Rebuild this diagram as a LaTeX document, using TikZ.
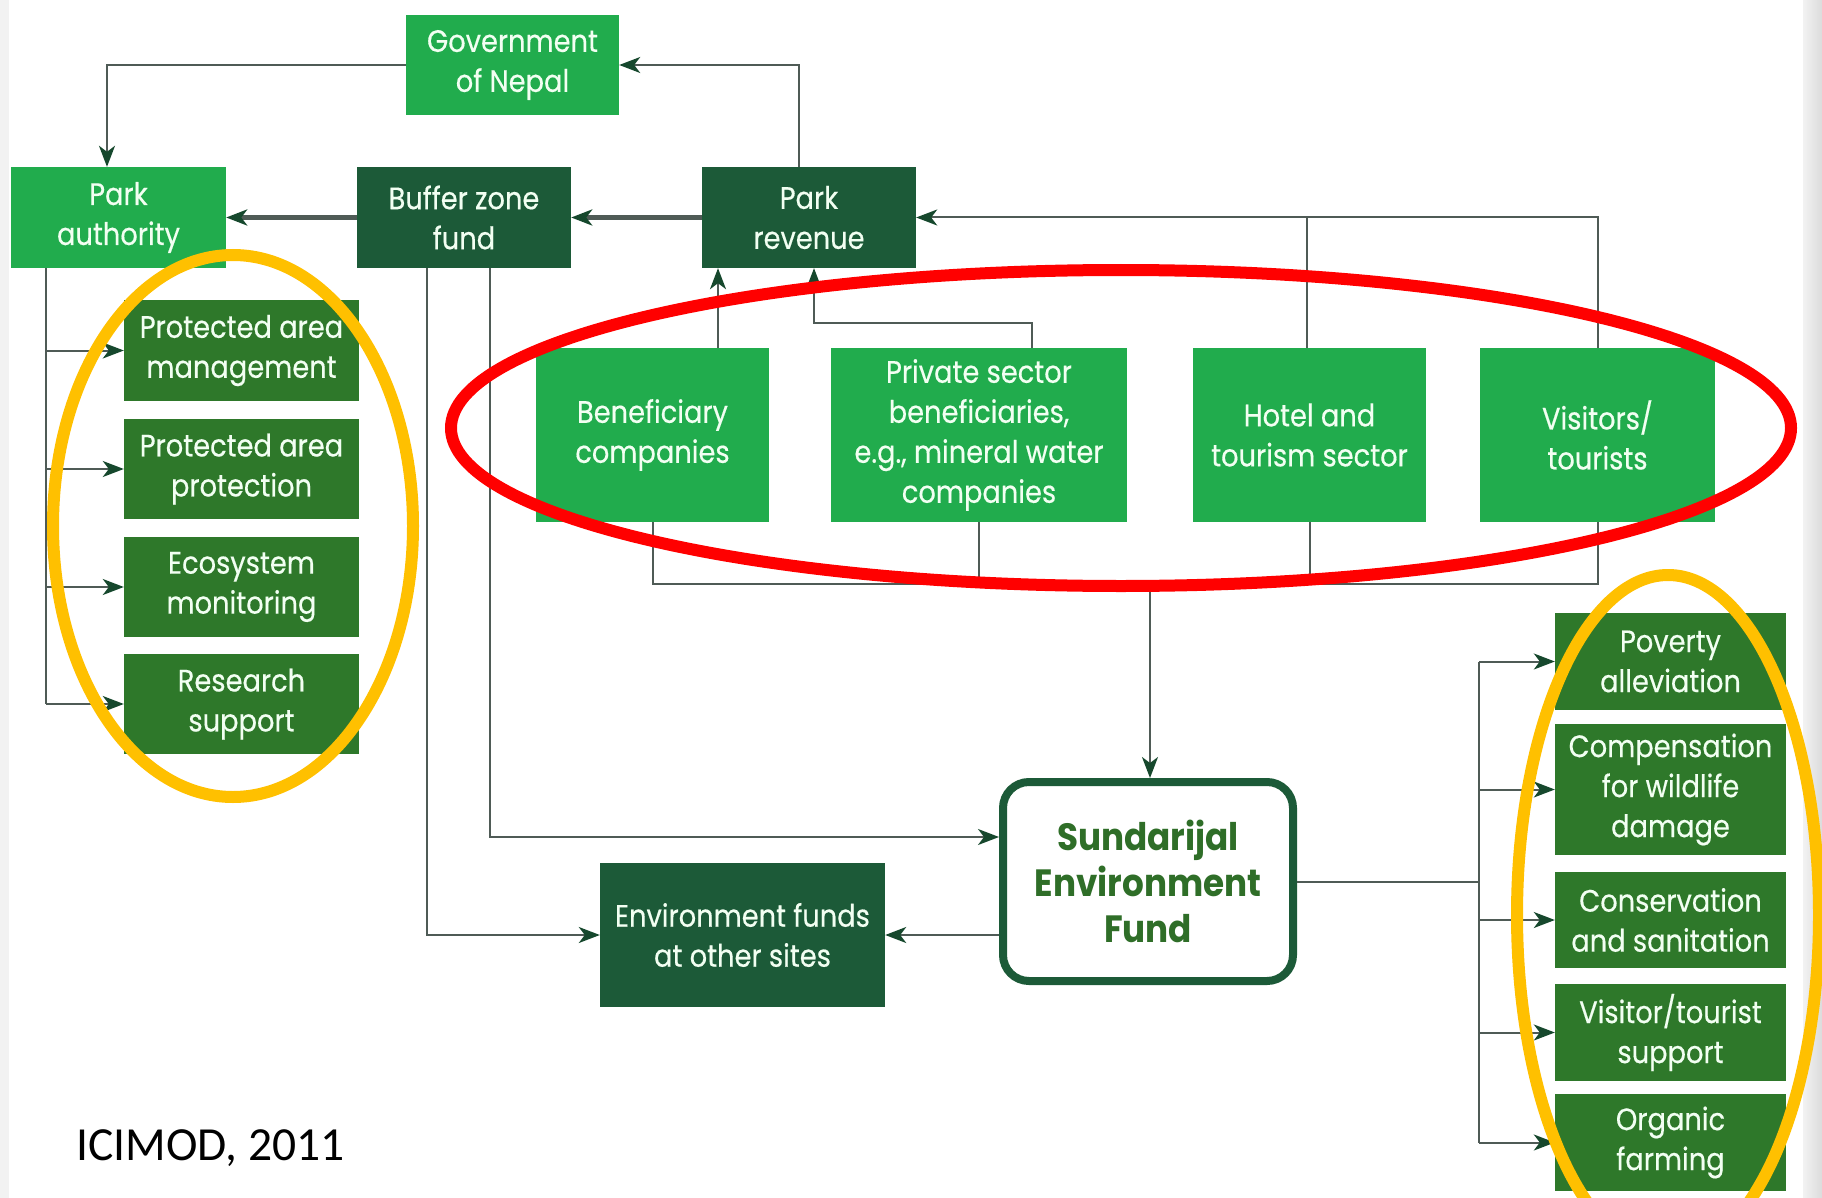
\documentclass[tikz,border=0pt]{standalone}
\usepackage{fontspec}
\setmainfont{Poppins}
\newfontfamily\boxfont[FakeStretch=0.88,FakeBold=0.4]{Poppins}
\newfontfamily\sefont[FakeStretch=0.9]{Poppins}
\newfontfamily\capfont{Carlito}
\usetikzlibrary{arrows.meta,calc}

\definecolor{lgreen}{HTML}{21AC4D}
\definecolor{dgreen}{HTML}{1C5A38}
\definecolor{mgreen}{HTML}{2E782A}
\definecolor{sefgreen}{HTML}{2F6E28}
\definecolor{linec}{HTML}{4F5B56}
\definecolor{hiyellow}{HTML}{FFC000}
\definecolor{txtlight}{HTML}{F2FFF2}

\tikzset{
  box/.style={rectangle, inner sep=0pt, align=center, text=txtlight,
    font=\boxfont\fontsize{31}{40}\selectfont},
  lbox/.style={box, fill=lgreen},
  dbox/.style={box, fill=dgreen},
  mbox/.style={box, fill=mgreen},
  wire/.style={draw=linec, line width=2pt},
  conn/.style={wire, -{Stealth[length=21pt,width=16pt,inset=6pt,color=dgreen!80!black]}},
  hilite/.style={line width=12pt},
}

\begin{document}
\begin{tikzpicture}[x=1pt,y=-1pt]
\useasboundingbox (0,0) rectangle (1822,1198);
\clip (0,0) rectangle (1822,1198);
\fill[white] (0,0) rectangle (1822,1198);
\fill[gray!10] (0,0) rectangle (9,1198);
\shade[left color=gray!10, right color=gray!28] (1803,0) rectangle (1822,1198);

% top row
\node[lbox, minimum width=213pt, minimum height=100pt] (gov) at (512.5,65) {Government\\of Nepal};
\node[lbox, minimum width=215pt, minimum height=101pt] (pa) at (118.5,217.5) {Park\\authority};
\node[dbox, minimum width=214pt, minimum height=101pt] (bzf) at (464,217.5) {Buffer zone\\fund};
\node[dbox, minimum width=214pt, minimum height=101pt] (pr) at (809,217.5) {Park\\revenue};

% contributors
\node[lbox, minimum width=233pt, minimum height=174pt] (ben) at (652.5,435) {Beneficiary\\companies};
\node[lbox, minimum width=296pt, minimum height=174pt] (priv) at (979,435) {Private sector\\beneficiaries,\\e.g., mineral water\\companies};
\node[lbox, minimum width=233pt, minimum height=174pt] (hotel) at (1309.5,435) {Hotel and\\tourism sector};
\node[lbox, minimum width=235pt, minimum height=174pt] (vis) at (1597.5,435) {Visitors/\\tourists};

% left column
\node[mbox, minimum width=235pt, minimum height=101pt] (pam) at (241.5,350.5) {Protected area\\management};
\node[mbox, minimum width=235pt, minimum height=100pt] (pap) at (241.5,469) {Protected area\\protection};
\node[mbox, minimum width=235pt, minimum height=100pt] (eco) at (241.5,587) {Ecosystem\\monitoring};
\node[mbox, minimum width=235pt, minimum height=100pt] (res) at (241.5,704) {Research\\support};

% fund
\node[rectangle, rounded corners=26pt, draw=dgreen, line width=8pt, fill=white,
  minimum width=290pt, minimum height=199pt, align=center, text=sefgreen,
  font=\sefont\bfseries\fontsize{38}{46}\selectfont] (sef) at (1148,881.5) {Sundarijal\\Environment\\Fund};
\node[dbox, minimum width=285pt, minimum height=144pt] (efo) at (742.5,935) {Environment funds\\at other sites};

% right column
\node[mbox, minimum width=231pt, minimum height=97pt] (pov) at (1670.5,661.5) {Poverty\\alleviation};
\node[mbox, minimum width=231pt, minimum height=131pt] (comp) at (1670.5,789.5) {Compensation\\for wildlife\\damage};
\node[mbox, minimum width=231pt, minimum height=96pt] (cons) at (1670.5,920) {Conservation\\and sanitation};
\node[mbox, minimum width=231pt, minimum height=97pt] (vt) at (1670.5,1032.5) {Visitor/tourist\\support};
\node[mbox, minimum width=231pt, minimum height=97pt] (org) at (1670.5,1142.5) {Organic\\farming};

\node[anchor=base west, inner sep=0pt, font=\capfont\fontsize{47.5}{56}\selectfont] (src) at (76,1160) {ICIMOD, 2011};

% connectors: top
\draw[conn] (gov.west) -| ([xshift=-11.5pt]pa.north);
\draw[conn] ([xshift=-10pt]pr.north) |- (gov.east);
\draw[conn, line width=4.5pt] (bzf.west) -- (pa.east);
\draw[conn, line width=4.5pt] (pr.west) -- (bzf.east);
\draw[conn] (vis.north) |- (pr.east);
\draw[wire] ([xshift=-2.5pt]hotel.north) -- ([xshift=-2.5pt]hotel.north |- pr.east);
\draw[conn] ([xshift=65.5pt]ben.north) -- ([xshift=65.5pt]ben.north |- pr.south);
\draw[conn] ([xshift=53pt]priv.north) -- ++(0,-25) -| ([xshift=5pt]pr.south);

% bottom bus to fund
\coordinate (bus) at (1150,584);
\draw[wire] (ben.south) -- (ben.south |- bus) -| (vis.south);
\draw[wire] (priv.south) -- (priv.south |- bus);
\draw[wire] (hotel.south) -- (hotel.south |- bus);
\draw[conn] (bus) -- (bus |- sef.north);

% buffer zone fund lines
\draw[conn] ([xshift=-37pt]bzf.south) |- (efo.west);
\draw[conn] ([xshift=26pt]bzf.south) |- ([yshift=44.5pt]sef.west);
\draw[conn] (sef.west |- efo.east) -- (efo.east);

% right bus
\coordinate (rbus) at (1479,881.5);
\draw[wire] (sef.east) -- (rbus);
\draw[wire] (rbus |- pov.west) -- (rbus |- org.west);
\foreach \n in {pov,comp,cons,vt,org} \draw[conn] (rbus |- \n.west) -- (\n.west);

% left bus
\coordinate (lbus) at (46,300);
\draw[wire] (pa.south -| lbus) -- (lbus |- res.west);
\foreach \n in {pam,pap,eco,res} \draw[conn] (lbus |- \n.west) -- (\n.west);

% highlight ellipses
\draw[hilite, hiyellow] (233,526) ellipse [x radius=180, y radius=271];
\draw[hilite, hiyellow] (1668,915) ellipse [x radius=151, y radius=340];
\draw[hilite, red] (1121,428) ellipse [x radius=670, y radius=158];
\end{tikzpicture}
\end{document}
